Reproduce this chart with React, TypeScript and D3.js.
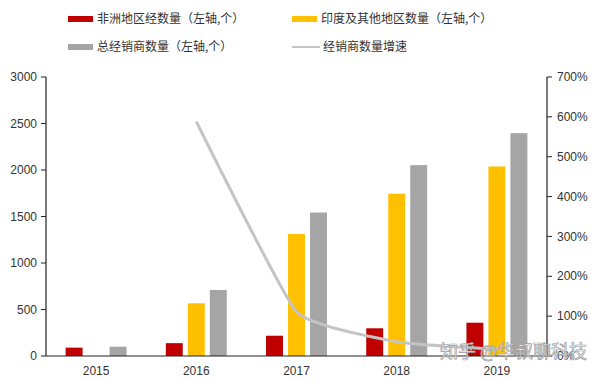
import React from "react";
import * as d3 from "d3";

const years = ["2015", "2016", "2017", "2018", "2019"];
const africa = [90, 138, 218, 298, 358];
const india = [null, 567, 1312, 1745, 2038];
const total = [100, 710, 1543, 2052, 2396];
const growth = [null, 588, 111, 36, 17];
const leftTicks = [0, 500, 1000, 1500, 2000, 2500, 3000];
const rightTicks = [0, 100, 200, 300, 400, 500, 600, 700];

const seriesNames = ["非洲地区经数量（左轴,个）", "印度及其他地区数量（左轴,个）", "总经销商数量（左轴,个）", "经销商数量增速"];
const colors = ["#c00000", "#ffc000", "#a5a5a5", "#c4c4c4"];

export default function App() {
  const W = 600, H = 381;
  const x0 = 46, x1 = 547, yTop = 77, yBot = 356;
  const x = d3.scaleBand().domain(years).range([x0, x1]).padding(0);
  const inner = d3.scaleBand().domain(["a", "i", "t"]).range([-33, 33]).padding(0);
  const y = d3.scaleLinear().domain([0, 3000]).range([yBot, yTop]);
  const yr = d3.scaleLinear().domain([0, 700]).range([yBot, yTop]);
  const bw = inner.bandwidth() * 0.77;
  const series = [
    { key: "a", vals: africa, color: colors[0] },
    { key: "i", vals: india, color: colors[1] },
    { key: "t", vals: total, color: colors[2] },
  ];
  const cx = (yr: string) => (x(yr) as number) + x.bandwidth() / 2;
  const linePts = years
    .map((yy, i) => ({ yy, v: growth[i] }))
    .filter((p) => p.v != null) as { yy: string; v: number }[];
  const line = d3
    .line<{ yy: string; v: number }>()
    .x((p) => cx(p.yy))
    .y((p) => yr(p.v))
    .curve(d3.curveCardinal.tension(0.6));
  const font = "Liberation Sans, Arial, sans-serif";
  const cjk = "'Noto Sans CJK SC', sans-serif";
  const legend = [
    { x: 68, y: 19, i: 0, type: "bar" },
    { x: 292, y: 19, i: 1, type: "bar" },
    { x: 68, y: 47, i: 2, type: "bar" },
    { x: 292, y: 47, i: 3, type: "line" },
  ];
  return (
    <svg width={W} height={H} style={{ position: "absolute", left: 0, top: 0, background: "#fff" }}>
      {legend.map((l) => (
        <g key={l.i}>
          {l.type === "bar" ? (
            <rect x={l.x} y={l.y - 3} width={25} height={6} fill={colors[l.i]} />
          ) : (
            <line x1={l.x} x2={l.x + 28} y1={l.y} y2={l.y} stroke={colors[l.i]} strokeWidth={2} />
          )}
          <text x={l.type === "bar" ? l.x + 29 : l.x + 31} y={l.y} dy="0.35em" fontSize={12} fontFamily={cjk} fill="#333">
            {seriesNames[l.i]}
          </text>
        </g>
      ))}
      {series.map((s) =>
        years.map((yy, i) => {
          const v = s.vals[i];
          if (v == null) return null;
          const c = cx(yy) + (inner(s.key) as number) + inner.bandwidth() / 2;
          return <rect key={s.key + yy} x={c - bw / 2} y={y(v)} width={bw} height={yBot - y(v)} fill={s.color} />;
        })
      )}
      <path d={line(linePts) || ""} fill="none" stroke={colors[3]} strokeWidth={3} />
      <line x1={x0} x2={x0} y1={yTop} y2={yBot} stroke="#222" strokeWidth={1.2} />
      {leftTicks.map((t) => (
        <g key={"l" + t}>
          <line x1={x0 - 5} x2={x0} y1={y(t)} y2={y(t)} stroke="#222" />
          <text x={37} y={y(t)} dy="0.35em" textAnchor="end" fontSize={12} fontFamily={font} fill="#333">
            {t}
          </text>
        </g>
      ))}
      <line x1={x1} x2={x1} y1={yTop} y2={yBot} stroke="#222" strokeWidth={1.2} />
      {rightTicks.map((t) => (
        <g key={"r" + t}>
          <line x1={x1} x2={x1 + 5} y1={yr(t)} y2={yr(t)} stroke="#222" />
          <text x={557} y={yr(t)} dy="0.35em" textAnchor="start" fontSize={12} fontFamily={font} fill="#333">
            {t + "%"}
          </text>
        </g>
      ))}
      <line x1={x0} x2={x1} y1={yBot} y2={yBot} stroke="#222" strokeWidth={1.2} />
      {years.map((yy) => (
        <text key={"x" + yy} x={cx(yy)} y={371} dy="0.35em" textAnchor="middle" fontSize={12} fontFamily={font} fill="#333">
          {yy}
        </text>
      ))}
      <text x={440} y={352} dy="0.35em" fontSize={18} fontFamily={cjk} fill="rgba(255,255,255,0.85)" stroke="#9a9a9a" strokeWidth={0.7}>
        知乎 @华叔聊科技
      </text>
    </svg>
  );
}
